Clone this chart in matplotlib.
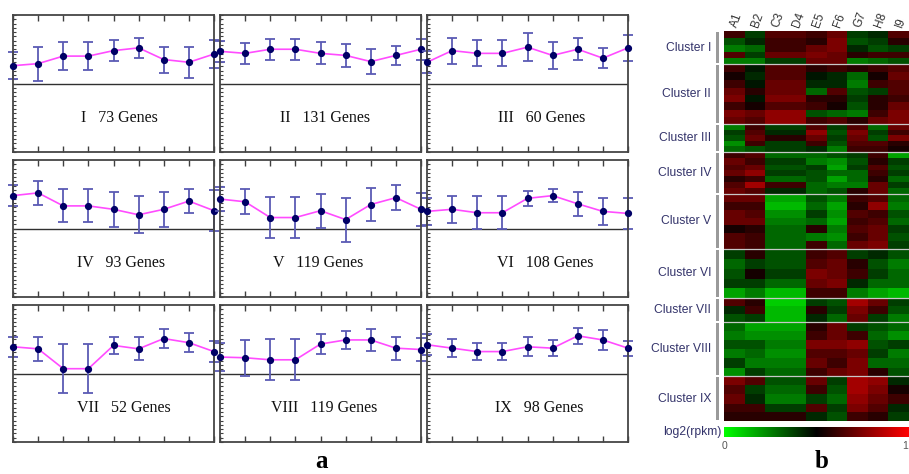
import numpy as np
import matplotlib
matplotlib.use("Agg")
import matplotlib.pyplot as plt
from matplotlib.colors import LinearSegmentedColormap
from matplotlib.ticker import MultipleLocator

# --- panel a: mean profile per cluster (relative scale, zero line in the middle) ---
roman = ["I", "II", "III", "IV", "V", "VI", "VII", "VIII", "IX"]
gene_counts = [73, 131, 60, 93, 119, 108, 52, 119, 98]

mean_I = [0.26, 0.29, 0.40, 0.40, 0.48, 0.52, 0.35, 0.31, 0.43]
mean_II = [0.47, 0.44, 0.50, 0.50, 0.44, 0.41, 0.32, 0.41, 0.50]
mean_III = [0.31, 0.48, 0.44, 0.44, 0.53, 0.41, 0.50, 0.37, 0.52]
mean_IV = [0.48, 0.52, 0.33, 0.33, 0.28, 0.20, 0.28, 0.40, 0.26]
mean_V = [0.43, 0.39, 0.16, 0.16, 0.26, 0.13, 0.35, 0.45, 0.28]
mean_VI = [0.25, 0.28, 0.23, 0.23, 0.44, 0.48, 0.36, 0.25, 0.22]
mean_VII = [0.39, 0.36, 0.07, 0.07, 0.41, 0.36, 0.51, 0.45, 0.32]
mean_VIII = [0.24, 0.23, 0.20, 0.20, 0.43, 0.49, 0.49, 0.37, 0.35]
mean_IX = [0.42, 0.37, 0.32, 0.32, 0.39, 0.37, 0.55, 0.49, 0.37]

err_I = [0.20, 0.25, 0.21, 0.21, 0.15, 0.15, 0.19, 0.23, 0.21]
err_II = [0.15, 0.15, 0.15, 0.15, 0.16, 0.17, 0.18, 0.14, 0.15]
err_III = [0.16, 0.19, 0.19, 0.19, 0.20, 0.20, 0.16, 0.15, 0.19]
err_IV = [0.15, 0.17, 0.24, 0.24, 0.26, 0.27, 0.26, 0.18, 0.30]
err_V = [0.17, 0.18, 0.30, 0.30, 0.25, 0.32, 0.24, 0.18, 0.24]
err_VI = [0.20, 0.20, 0.24, 0.24, 0.11, 0.10, 0.18, 0.20, 0.22]
err_VII = [0.15, 0.18, 0.36, 0.36, 0.12, 0.17, 0.14, 0.14, 0.15]
err_VIII = [0.20, 0.26, 0.30, 0.30, 0.14, 0.13, 0.16, 0.17, 0.17]
err_IX = [0.15, 0.13, 0.13, 0.13, 0.14, 0.12, 0.12, 0.14, 0.11]

# --- panel b: heatmap bands per cluster (-1 green .. 1 red), columns A1..I9 ---
samples = ["A1", "B2", "C3", "D4", "E5", "F6", "G7", "H8", "I9"]

heat_I = [
    [0.3, -0.3, 0.4, 0.4, 0.3, 0.5, -0.3, -0.2, 0.4],
    [-0.4, -0.2, 0.3, 0.3, 0.2, 0.6, -0.4, -0.3, 0.2],
    [-0.6, -0.5, 0.3, 0.3, 0.5, 0.6, -0.2, -0.4, -0.3],
    [0.4, -0.3, 0.5, 0.5, 0.6, 0.5, 0.2, 0.3, 0.3],
    [-0.6, -0.6, -0.3, -0.3, 0.5, 0.5, -0.6, -0.5, -0.4],
]
heat_II = [
    [0.3, -0.1, 0.4, 0.4, 0.2, 0.3, 0.2, 0.3, 0.4],
    [0.1, -0.2, 0.4, 0.4, -0.1, -0.2, -0.5, 0.1, 0.5],
    [0.3, -0.1, 0.5, 0.5, -0.2, -0.2, -0.6, 0.3, 0.4],
    [0.5, 0.2, 0.5, 0.5, -0.5, 0.4, -0.4, -0.3, 0.4],
    [0.6, -0.1, 0.6, 0.6, 0.2, 0.2, -0.3, 0.2, 0.3],
    [0.3, 0.1, 0.4, 0.4, 0.3, 0.1, -0.4, 0.2, 0.5],
    [0.6, 0.5, 0.7, 0.7, -0.4, -0.5, -0.6, 0.3, 0.6],
    [0.5, 0.4, 0.7, 0.7, 0.3, 0.4, 0.2, 0.5, 0.6],
]
heat_III = [
    [-0.6, 0.3, -0.3, -0.3, 0.4, -0.3, 0.4, -0.5, 0.5],
    [-0.3, 0.4, -0.2, -0.2, 0.7, -0.4, 0.6, -0.3, 0.3],
    [-0.4, 0.5, 0.2, 0.2, 0.5, -0.3, 0.5, -0.4, 0.6],
    [-0.7, 0.3, -0.3, -0.3, 0.3, -0.4, 0.4, 0.4, 0.2],
    [-0.5, -0.4, -0.3, -0.3, -0.2, -0.6, 0.3, 0.3, 0.1],
]
heat_IV = [
    [0.3, 0.4, -0.5, -0.5, -0.5, -0.4, -0.3, 0.3, -0.8],
    [0.5, 0.3, -0.3, -0.3, -0.6, -0.7, -0.4, 0.2, -0.3],
    [0.4, 0.5, -0.4, -0.4, -0.3, -0.8, -0.3, 0.4, -0.4],
    [0.5, 0.7, -0.3, -0.3, -0.4, -0.5, -0.5, 0.3, -0.3],
    [0.2, 0.3, -0.5, -0.5, -0.4, -0.8, -0.5, 0.2, -0.5],
    [0.4, 0.8, 0.3, 0.3, -0.5, -0.6, -0.6, 0.5, -0.3],
    [0.5, 0.4, -0.2, -0.2, -0.5, -0.4, 0.2, 0.5, -0.5],
]
heat_V = [
    [0.5, 0.5, -0.8, -0.8, -0.4, -0.6, 0.3, 0.4, -0.5],
    [0.3, 0.3, -0.9, -0.9, -0.5, -0.8, 0.2, 0.7, -0.6],
    [0.5, 0.4, -0.7, -0.7, -0.3, -0.7, 0.4, 0.3, -0.4],
    [0.5, 0.5, -0.6, -0.6, -0.5, -0.8, 0.3, 0.4, -0.5],
    [0.1, 0.2, -0.5, -0.5, 0.2, -0.6, 0.4, 0.5, -0.3],
    [0.4, 0.3, -0.5, -0.5, -0.6, -0.7, 0.3, 0.5, -0.4],
    [0.4, 0.3, -0.5, -0.5, 0.3, -0.5, 0.5, 0.6, -0.3],
]
heat_VI = [
    [-0.3, 0.2, -0.4, -0.4, 0.3, 0.4, -0.3, -0.2, -0.4],
    [-0.5, -0.3, -0.4, -0.4, 0.4, 0.5, 0.2, -0.4, -0.6],
    [-0.4, 0.1, -0.3, -0.3, 0.6, 0.5, 0.3, -0.3, -0.5],
    [-0.3, -0.3, -0.5, -0.5, 0.5, 0.6, -0.2, -0.5, -0.5],
    [-0.8, -0.6, -0.9, -0.9, 0.3, 0.3, -0.6, -0.8, -0.9],
]
heat_VII = [
    [0.4, 0.2, -1.0, -1.0, -0.3, -0.4, 0.8, 0.5, -0.3],
    [-0.2, 0.3, -0.9, -0.9, 0.2, -0.3, 0.6, 0.3, -0.4],
    [-0.4, -0.3, -0.9, -0.9, -0.2, -0.5, 0.5, -0.3, -0.6],
]
heat_VIII = [
    [-0.5, -0.8, -0.8, -0.8, 0.2, 0.5, -0.3, -0.4, -0.5],
    [-0.6, -0.7, -0.7, -0.7, 0.3, 0.5, 0.3, -0.5, -0.7],
    [-0.4, -0.4, -0.6, -0.6, 0.6, 0.6, 0.7, -0.4, -0.3],
    [-0.6, -0.5, -0.7, -0.7, 0.4, 0.4, 0.5, -0.3, -0.6],
    [-0.3, -0.6, -0.6, -0.6, 0.5, 0.3, 0.6, -0.5, -0.5],
    [-0.7, -0.3, -0.5, -0.5, 0.3, 0.5, 0.6, 0.2, -0.4],
]
heat_IX = [
    [0.6, 0.4, -0.4, -0.4, 0.5, -0.3, 0.8, 0.7, -0.2],
    [0.4, -0.3, -0.5, -0.5, 0.3, -0.4, 0.8, 0.6, 0.1],
    [0.5, -0.2, -0.6, -0.6, -0.3, -0.5, 0.7, 0.5, 0.3],
    [0.3, 0.3, -0.3, -0.3, 0.4, -0.3, 0.6, 0.4, -0.2],
    [0.2, 0.2, 0.2, 0.2, -0.2, -0.4, 0.3, 0.2, -0.3],
]

means = [mean_I, mean_II, mean_III, mean_IV, mean_V, mean_VI, mean_VII, mean_VIII, mean_IX]
errs = [err_I, err_II, err_III, err_IV, err_V, err_VI, err_VII, err_VIII, err_IX]
heats = [heat_I, heat_II, heat_III, heat_IV, heat_V, heat_VI, heat_VII, heat_VIII, heat_IX]
label_x = [0.53, 0.525, 0.57, 0.537, 0.49, 0.59, 0.55, 0.52, 0.56]

W, H = 909, 474
fig = plt.figure(figsize=(W / 100, H / 100), dpi=100)


def px_axes(x0, y0, x1, y1):
    # pixel box (top-left origin) -> figure axes
    return fig.add_axes([x0 / W, 1 - y1 / H, (x1 - x0) / W, (y1 - y0) / H])


col_x = [(13, 214), (220, 421), (427, 628)]
row_y = [(15, 152), (160, 297), (305, 442)]
x = np.arange(9)

for k in range(9):
    r, c = divmod(k, 3)
    ax = px_axes(col_x[c][0], row_y[r][0], col_x[c][1], row_y[r][1])
    ax.axhline(0, color="#303030", lw=1.0, zorder=1)
    ax.errorbar(x, means[k], yerr=errs[k], fmt="none", ecolor="#5a5ab4",
                elinewidth=1.3, capsize=3.5, capthick=1.3, clip_on=False, zorder=2)
    ax.plot(x, means[k], color="#ff4cff", lw=1.2, clip_on=False, zorder=3)
    ax.plot(x, means[k], "o", color="#000066", ms=4.2, clip_on=False, zorder=4)
    ax.set_xlim(0, 8)
    ax.set_ylim(-1, 1)
    ax.set_xticks(x)
    ax.yaxis.set_major_locator(MultipleLocator(0.0625))
    ax.tick_params(axis="x", top=True, bottom=True, direction="in", length=4,
                   width=1, color="#404040", labelbottom=False)
    ax.tick_params(axis="y", left=True, right=False, direction="in", length=2.5,
                   width=0.8, color="#404040", labelleft=False)
    for sp in ax.spines.values():
        sp.set_color("#454545")
        sp.set_linewidth(1.3)
    ax.text(label_x[k], 0.25, f"{roman[k]}   {gene_counts[k]} Genes",
            transform=ax.transAxes, ha="center", va="center",
            family="Liberation Serif", fontsize=11.5, color="#111111")

fig.text(322 / W, 1 - 462 / H, "a", ha="center", va="center",
         family="Liberation Serif", fontweight="bold", fontsize=18)
fig.text(822 / W, 1 - 462 / H, "b", ha="center", va="center",
         family="Liberation Serif", fontweight="bold", fontsize=18)

# --- heatmap ---
cmap = LinearSegmentedColormap.from_list("gbr", ["#00ff00", "#000000", "#ff0000"])
blocks = []
for n, bands in zip(gene_counts, heats):
    bands = np.array(bands)
    reps = [len(s) for s in np.array_split(np.arange(n), len(bands))]
    blocks.append(np.repeat(bands, reps, axis=0))
mat = np.vstack(blocks)
total = mat.shape[0]

hx0, hy0, hx1, hy1 = 724, 31, 909, 421
hax = px_axes(hx0, hy0, hx1, hy1)
hax.imshow(mat, cmap=cmap, vmin=-1.25, vmax=1.25, aspect="auto",
           interpolation="nearest", extent=(0, 9, total, 0))
bounds = np.cumsum(gene_counts)
for b in bounds[:-1]:
    hax.axhline(b, color="#c8c8c8", lw=0.9)
hax.set_xlim(0, 9)
hax.set_ylim(total, 0)
hax.set_yticks([])
hax.xaxis.tick_top()
hax.set_xticks(x + 0.5)
hax.set_xticklabels(samples, rotation=70, ha="left", va="center",
                    rotation_mode="anchor", fontsize=8.5, color="#333333",
                    family="Liberation Sans")
hax.tick_params(axis="x", length=0, pad=3)
for sp in hax.spines.values():
    sp.set_visible(False)

# cluster labels and gray bars on the left
starts = np.concatenate([[0], bounds[:-1]])
for k in range(9):
    y_top = hy0 + (hy1 - hy0) * starts[k] / total
    y_bot = hy0 + (hy1 - hy0) * bounds[k] / total
    fig.patches.append(plt.Rectangle((716 / W, 1 - (y_bot - 1) / H), 3 / W,
                                     (y_bot - y_top - 2) / H, transform=fig.transFigure,
                                     color="#9a9a9a", lw=0))
    fig.text(711 / W, 1 - (y_top + y_bot) / 2 / H, f"Cluster {roman[k]}",
             ha="right", va="center", fontsize=8.7, color="#33336a",
             family="Liberation Sans")

# colour bar
cax = px_axes(724, 427, 909, 437)
cax.imshow(np.linspace(-1, 1, 256)[None, :], cmap=cmap, aspect="auto",
           extent=(0, 1, 0, 1))
cax.set_xticks([])
cax.set_yticks([])
for sp in cax.spines.values():
    sp.set_visible(False)
fig.text(721 / W, 1 - 432 / H, "log2(rpkm)", ha="right", va="center",
         fontsize=8.7, color="#33336a", family="Liberation Sans")
fig.text(725 / W, 1 - 446 / H, "0", ha="center", va="center",
         fontsize=7.5, color="#555555", family="Liberation Sans")
fig.text(908 / W, 1 - 446 / H, "1", ha="right", va="center",
         fontsize=7.5, color="#555555", family="Liberation Sans")

fig.savefig("out.png", dpi=100)
